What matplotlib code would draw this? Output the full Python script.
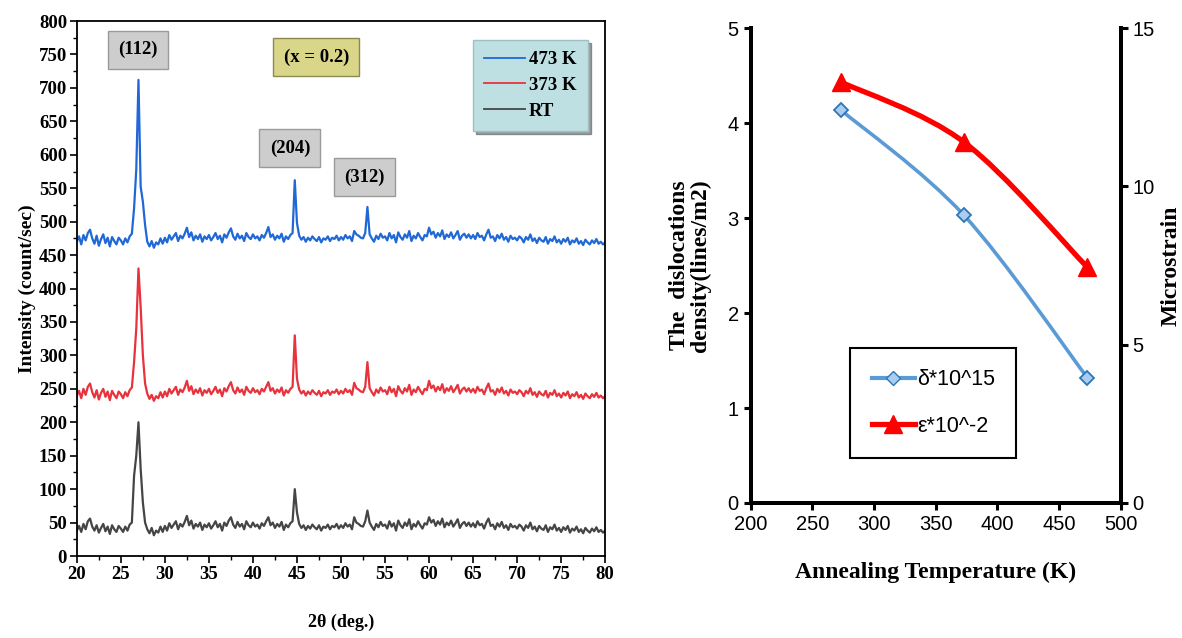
import numpy as np
import matplotlib.pyplot as plt
from matplotlib.path import Path
from matplotlib.patches import PathPatch
from matplotlib.lines import Line2D
from matplotlib.ticker import MultipleLocator

# ---- XRD data (2theta step 0.25 deg, 20..80) ----
two_theta = np.linspace(20, 80, 241)

rt = [
    38, 45, 36, 48, 40, 52, 56, 44, 38, 46, 35, 42, 48, 37, 44, 33, 46, 40, 36, 45,
    41, 36, 44, 38, 47, 50, 120, 150, 200, 130, 80, 50, 40, 34, 42, 31, 38, 35, 44, 36,
    45, 38, 49, 42, 47, 52, 40, 48, 44, 51, 60, 46, 53, 41, 48, 44, 50, 39, 47, 43,
    49, 41, 46, 52, 43, 48, 38, 50, 45, 53, 58, 47, 42, 51, 44, 48, 40, 52, 46, 43,
    50, 44, 47, 41, 49, 45, 52, 58, 46, 50, 42, 48, 44, 51, 39, 47, 43, 49, 52, 100,
    65, 48, 42, 46, 39, 45, 41, 47, 43, 40, 46, 38, 44, 42, 47, 40, 45, 43, 48, 41,
    46, 42, 49, 44, 47, 40, 58, 50, 48, 45, 44, 52, 68, 50, 44, 39, 48, 43, 51, 45,
    47, 41, 52, 44, 49, 38, 53, 46, 42, 50, 45, 55, 40, 48, 44, 52, 46, 41, 49, 47,
    58, 50, 54, 45, 52, 47, 56, 43, 50, 46, 53, 44, 49, 55, 42, 48, 51, 45, 50, 44,
    49, 43, 52, 46, 48, 41, 50, 56, 45, 47, 40, 49, 44, 51, 42, 46, 39, 48, 43, 45,
    41, 47, 44, 38, 46, 42, 50, 40, 44, 37, 45, 41, 39, 46, 36, 43, 40, 47, 38, 42,
    36, 43, 39, 45, 35, 41, 38, 44, 36, 40, 34, 42, 38, 35, 41, 37, 43, 36, 39, 35,
    38,
]

k373 = [
    240, 247, 236, 250, 241, 253, 258, 245, 237, 248, 234, 244, 250, 238, 246, 233, 247, 241, 236, 246,
    242, 236, 245, 239, 248, 252, 290, 340, 430, 372, 300, 258, 243, 235, 241, 232, 239, 236, 245, 237,
    246, 239, 250, 243, 248, 253, 241, 249, 245, 252, 262, 247, 254, 242, 249, 244, 251, 240, 248, 244,
    250, 242, 247, 253, 244, 249, 239, 251, 246, 254, 260, 248, 243, 252, 245, 249, 241, 253, 247, 244,
    251, 245, 248, 242, 250, 246, 253, 260, 247, 251, 243, 249, 245, 252, 240, 248, 244, 250, 253, 330,
    265, 249, 243, 247, 240, 246, 242, 248, 244, 241, 247, 239, 245, 243, 248, 241, 246, 244, 249, 242,
    247, 243, 250, 245, 248, 241, 259, 251, 249, 246, 245, 253, 290, 251, 245, 240, 249, 244, 252, 246,
    248, 242, 253, 245, 250, 239, 254, 247, 243, 251, 246, 256, 241, 249, 245, 253, 247, 242, 250, 248,
    262, 251, 255, 246, 253, 248, 257, 244, 251, 247, 254, 245, 250, 256, 243, 249, 252, 246, 251, 245,
    250, 244, 253, 247, 249, 242, 251, 258, 246, 248, 241, 250, 245, 252, 243, 247, 240, 249, 244, 246,
    242, 248, 245, 239, 247, 243, 251, 241, 245, 238, 246, 242, 240, 247, 237, 244, 241, 248, 239, 243,
    237, 244, 240, 246, 236, 242, 239, 245, 237, 241, 235, 243, 239, 236, 242, 238, 244, 237, 240, 236,
    239,
]

k473 = [
    470, 478, 466, 480, 472, 483, 488, 475, 467, 479, 464, 474, 481, 468, 476, 463, 477, 471, 466, 476,
    472, 466, 475, 469, 478, 482, 520, 578, 712, 552, 530, 495, 470, 463, 471, 461, 469, 466, 475, 467,
    476, 469, 480, 473, 478, 483, 471, 479, 475, 482, 491, 477, 484, 472, 479, 474, 481, 470, 478, 474,
    480, 472, 477, 483, 474, 479, 469, 481, 476, 484, 490, 478, 473, 482, 475, 479, 471, 483, 477, 474,
    481, 475, 478, 472, 480, 476, 483, 492, 477, 481, 473, 479, 475, 482, 470, 478, 474, 480, 483, 562,
    498, 479, 473, 477, 470, 476, 472, 478, 474, 471, 477, 469, 475, 473, 478, 471, 476, 474, 479, 472,
    477, 473, 480, 475, 478, 471, 486, 481, 479, 476, 475, 483, 522, 481, 475, 470, 479, 474, 482, 476,
    478, 472, 483, 475, 480, 469, 484, 477, 473, 481, 476, 486, 471, 479, 475, 483, 477, 472, 480, 478,
    491, 481, 485, 476, 483, 478, 487, 474, 481, 477, 484, 475, 480, 486, 473, 479, 482, 476, 481, 475,
    480, 474, 483, 477, 479, 472, 481, 488, 476, 478, 471, 480, 475, 482, 473, 477, 470, 479, 474, 476,
    472, 478, 475, 469, 477, 473, 481, 471, 475, 468, 476, 472, 470, 477, 467, 474, 471, 478, 469, 473,
    467, 474, 470, 476, 466, 472, 469, 475, 467, 471, 465, 473, 469, 466, 472, 468, 474, 467, 470, 466,
    469,
]

peak_labels = ["(112)", "(204)", "(312)"]
peak_label_pos = [(26.9, 757), (44.2, 610), (52.7, 567)]

# ---- annealing data ----
temps = [273, 373, 473]
delta = [4.14, 3.03, 1.32]      # dislocation density *10^15
strain = [13.3, 11.4, 7.45]     # microstrain *10^-2

serif = "Liberation Serif"
sans = "Liberation Sans"

fig = plt.figure(figsize=(11.82, 6.38), dpi=100)

# ================= left panel =================
ax1 = fig.add_axes([0.065, 0.1285, 0.447, 0.8385])
blue = "#1f68d6"
red = "#e8323c"
dark = "#454545"
ax1.plot(two_theta, rt, color=dark, lw=1.6, label="RT")
ax1.plot(two_theta, k373, color=red, lw=1.6, label="373 K")
ax1.plot(two_theta, k473, color=blue, lw=1.6, label="473 K")
ax1.set_xlim(20, 80)
ax1.set_ylim(0, 800)
ax1.xaxis.set_major_locator(MultipleLocator(5))
ax1.xaxis.set_minor_locator(MultipleLocator(2.5))
ax1.yaxis.set_major_locator(MultipleLocator(50))
ax1.yaxis.set_minor_locator(MultipleLocator(25))
ax1.tick_params(which="major", direction="out", length=5, width=1.2, top=False, right=False, pad=2)
ax1.tick_params(which="minor", direction="out", length=3, width=1, top=False, right=False)
for lab in ax1.get_xticklabels() + ax1.get_yticklabels():
    lab.set_fontfamily(serif)
    lab.set_fontweight("bold")
    lab.set_fontsize(13.5)
for s in ax1.spines.values():
    s.set_linewidth(1.3)
ax1.set_ylabel("Intensity (count/sec)", fontfamily=serif, fontweight="bold", fontsize=14, labelpad=2)
ax1.set_xlabel("2θ (deg.)", fontfamily=serif, fontweight="bold", fontsize=13, labelpad=22)

for txt, (px, py) in zip(peak_labels, peak_label_pos):
    ax1.text(px, py, txt, ha="center", va="center", fontfamily=serif, fontweight="bold", fontsize=13.5,
             bbox=dict(boxstyle="square,pad=0.55", fc="#cdcdcd", ec="#9a9a9a", lw=1))
ax1.text(47.2, 746, "(x = 0.2)", ha="center", va="center", fontfamily=serif, fontweight="bold", fontsize=13.5,
         bbox=dict(boxstyle="square,pad=0.55", fc="#d9d68a", ec="#8a8a50", lw=1))

h, l = ax1.get_legend_handles_labels()
leg1 = ax1.legend(h[::-1], l[::-1], loc="upper right", bbox_to_anchor=(0.985, 0.982),
                  prop={"family": serif, "weight": "bold", "size": 13.5},
                  fancybox=False, shadow=True, framealpha=1, handlelength=2.2,
                  handletextpad=0.2, labelspacing=0.45, borderpad=0.6)
leg1.get_frame().set_facecolor("#bfe0e3")
leg1.get_frame().set_edgecolor("#9fbfc2")
for ln in leg1.get_lines():
    ln.set_linewidth(1.3)

# ================= right panel =================
ax2 = fig.add_axes([0.635, 0.2116, 0.313, 0.7444])
ax3 = ax2.twinx()

bl = "#5b9bd5"
rd = "#ff0000"


def smooth_path(xs, ys):
    # Excel-style smoothed line drawn as cubic Bezier segments through the points
    pts = list(zip(xs, ys))
    ext = [pts[0]] + pts + [pts[-1]]
    verts = [pts[0]]
    codes = [Path.MOVETO]
    for i in range(len(pts) - 1):
        p0, p1, p2, p3 = ext[i], ext[i + 1], ext[i + 2], ext[i + 3]
        c1 = (p1[0] + (p2[0] - p0[0]) / 6, p1[1] + (p2[1] - p0[1]) / 6)
        c2 = (p2[0] - (p3[0] - p1[0]) / 6, p2[1] - (p3[1] - p1[1]) / 6)
        verts += [c1, c2, p2]
        codes += [Path.CURVE4] * 3
    return Path(verts, codes)


ax2.add_patch(PathPatch(smooth_path(temps, delta), fc="none", ec=bl, lw=2.6, zorder=3))
ax2.plot(temps, delta, ls="none", marker="D", ms=7, mfc="#a9cdf0", mec="#2e75b6", mew=1.3, zorder=4)
ax3.add_patch(PathPatch(smooth_path(temps, strain), fc="none", ec=rd, lw=3.8, zorder=3))
ax3.plot(temps, strain, ls="none", marker="^", ms=13, color=rd, zorder=4)

ax2.set_xlim(200, 500)
ax2.set_ylim(0, 5)
ax3.set_ylim(0, 15)
ax2.xaxis.set_major_locator(MultipleLocator(50))
ax2.yaxis.set_major_locator(MultipleLocator(1))
ax3.yaxis.set_major_locator(MultipleLocator(5))

for a in (ax2, ax3):
    a.spines["top"].set_visible(False)
    for s in ("left", "right", "bottom"):
        a.spines[s].set_linewidth(2.8)
    a.tick_params(direction="out", length=5, width=2.2, labelsize=14.5)
    for lab in a.get_xticklabels() + a.get_yticklabels():
        lab.set_fontfamily(sans)

ax2.set_xlabel("Annealing Temperature (K)", fontfamily=serif, fontweight="bold", fontsize=17, labelpad=20)
ax2.set_ylabel("The  dislocations\ndensity(lines/m2)", fontfamily=serif, fontweight="bold", fontsize=17,
               labelpad=12, linespacing=0.95)
ax3.set_ylabel("Microstrain", fontfamily=serif, fontweight="bold", fontsize=17, labelpad=4)

handles = [
    Line2D([], [], color=bl, lw=3, marker="D", ms=7, mfc="#a9cdf0", mec="#2e75b6"),
    Line2D([], [], color=rd, lw=3.8, marker="^", ms=13),
]
leg2 = ax3.legend(handles, ["δ*10^15", "ε*10^-2"], loc="upper left", bbox_to_anchor=(0.24, 0.35),
                  prop={"family": sans, "size": 15.5}, fancybox=False, framealpha=1,
                  borderpad=1.0, labelspacing=1.2, handlelength=2.0, handletextpad=0.1)
leg2.get_frame().set_edgecolor("black")
leg2.get_frame().set_linewidth(1.5)

fig.savefig("out.png", dpi=100)
